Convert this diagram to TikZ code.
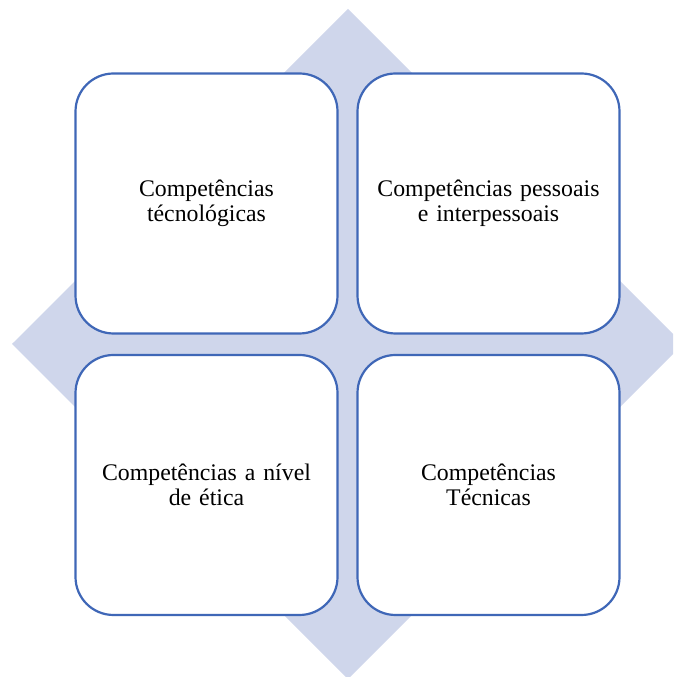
\documentclass[tikz,border=0pt]{standalone}
\usepackage{fontspec}
\setmainfont{Liberation Serif}
\definecolor{diafill}{RGB}{207,214,235}
\definecolor{boxline}{RGB}{63,103,183}
\tikzset{
  quad/.style={draw=boxline, line width=2.2pt, fill=white, rounded corners=38pt,
    minimum width=262pt, minimum height=260pt, inner sep=0pt,
    align=center, font=\fontsize{23.8pt}{25pt}\selectfont, text width=250pt},
}
\begin{document}
\begin{tikzpicture}[x=1pt,y=1pt]
\useasboundingbox (0,0) rectangle (673,677);
\begin{scope}
\clip (0,0) rectangle (673,677);
\fill[diafill] (348,668) -- (683,333) -- (348,-2) -- (12,333) -- cycle;
\end{scope}
\node[quad] (tl) at (206.5,473.5) {Competências\\técnológicas};
\node[quad] (tr) at (488.5,473.5) {Competências pessoais\\e interpessoais};
\node[quad] (bl) at (206.5,192) {Competências a nível\\de ética};
\node[quad] (br) at (488.5,192) {Competências\\Técnicas};
\end{tikzpicture}
\end{document}
